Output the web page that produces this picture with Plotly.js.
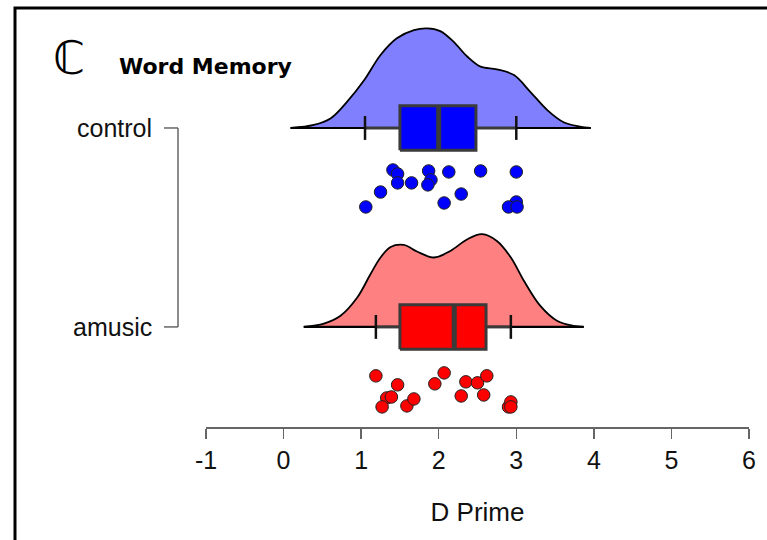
<!DOCTYPE html>
<html>
<head>
<meta charset="utf-8">
<script src="https://cdn.plot.ly/plotly-3.0.1.min.js"></script>
<style>html,body{margin:0;padding:0;background:#fff;}#chart{width:767px;height:540px;}</style>
</head>
<body>
<div id="chart"></div>
<script>
// ---- data ----
const groups = ['amusic', 'control'];
const groupPos = [1, 2];

// density outlines (x, height in y-axis units above the group baseline)
const controlDensX = [0.09, 0.39, 0.61, 0.82, 1.04, 1.25, 1.46, 1.68, 1.85, 2.02, 2.19, 2.37, 2.54, 2.75, 2.97, 3.18, 3.40, 3.61, 3.82, 3.96];
const controlDensH = [0, 0.015, 0.049, 0.132, 0.241, 0.367, 0.451, 0.492, 0.501, 0.487, 0.434, 0.358, 0.308, 0.295, 0.266, 0.182, 0.090, 0.029, 0.007, 0];
const amusicDensX = [0.26, 0.52, 0.73, 0.95, 1.12, 1.25, 1.38, 1.55, 1.72, 1.94, 2.15, 2.37, 2.56, 2.75, 2.93, 3.10, 3.31, 3.53, 3.74, 3.87];
const amusicDensH = [0, 0.017, 0.055, 0.148, 0.265, 0.349, 0.402, 0.412, 0.379, 0.349, 0.382, 0.441, 0.466, 0.432, 0.349, 0.231, 0.106, 0.030, 0.005, 0];

// box statistics [lowerfence, q1, median, q3, upperfence]
const controlBox = [1.05, 1.50, 2.00, 2.48, 3.00];
const amusicBox = [1.19, 1.50, 2.20, 2.61, 2.93];

// raw points and their vertical jitter (below baseline, y units)
const controlPts = [1.06, 1.25, 1.41, 1.47, 1.47, 1.65, 1.87, 1.90, 1.86, 2.13, 2.07, 2.29, 2.54, 3.00, 3.00, 2.90, 3.01];
const controlJit = [0.397, 0.322, 0.211, 0.231, 0.276, 0.276, 0.216, 0.261, 0.286, 0.221, 0.377, 0.332, 0.216, 0.221, 0.372, 0.397, 0.397];
const amusicPts = [1.19, 1.47, 1.33, 1.39, 1.27, 1.59, 1.68, 1.95, 2.07, 2.29, 2.35, 2.50, 2.62, 2.58, 2.90, 2.93, 2.93];
const amusicJit = [0.246, 0.291, 0.357, 0.352, 0.402, 0.397, 0.362, 0.286, 0.231, 0.347, 0.276, 0.281, 0.246, 0.342, 0.402, 0.377, 0.402];

const xTicks = [-1, 0, 1, 2, 3, 4, 5, 6];

// ---- build traces ----
const BOX_H = 0.112, CAP_H = 0.06;
function rain(densX, densH, box, pts, jit, base, fillDens, fillBox) {
  const [lf, q1, md, q3, uf] = box;
  const t = [];
  t.push({type: 'scatter', mode: 'lines', x: densX, y: densH.map(h => base + h),
    fill: 'toself', fillcolor: fillDens, line: {color: '#000', width: 1.8, shape: 'spline', smoothing: 1},
    hoverinfo: 'skip'});
  t.push({type: 'scatter', mode: 'lines', x: [densX[0], densX[densX.length - 1]], y: [base, base],
    line: {color: '#000', width: 2.2}, hoverinfo: 'skip'});
  // whiskers
  t.push({type: 'scatter', mode: 'lines', x: [lf, q1, null, q3, uf], y: [base, base, null, base, base],
    line: {color: '#3a3a3a', width: 3}, hoverinfo: 'skip'});
  // caps
  t.push({type: 'scatter', mode: 'lines', x: [lf, lf, null, uf, uf],
    y: [base - CAP_H, base + CAP_H, null, base - CAP_H, base + CAP_H],
    line: {color: '#111', width: 2.5}, hoverinfo: 'skip'});
  // box body
  t.push({type: 'scatter', mode: 'lines', x: [q1, q3, q3, q1, q1],
    y: [base - BOX_H, base - BOX_H, base + BOX_H, base + BOX_H, base - BOX_H],
    fill: 'toself', fillcolor: fillBox, line: {color: '#3a3a3a', width: 3}, hoverinfo: 'skip'});
  // median
  t.push({type: 'scatter', mode: 'lines', x: [md, md], y: [base - BOX_H, base + BOX_H],
    line: {color: '#3a3a3a', width: 5}, hoverinfo: 'skip'});
  // points
  t.push({type: 'scatter', mode: 'markers', x: pts, y: jit.map(j => base - j),
    marker: {color: fillBox, size: 12.5, line: {color: '#222', width: 1}}});
  return t;
}

const data = [].concat(
  rain(controlDensX, controlDensH, controlBox, controlPts, controlJit, groupPos[1], '#8080FF', '#0000FF'),
  rain(amusicDensX, amusicDensH, amusicBox, amusicPts, amusicJit, groupPos[0], '#FF8080', '#FF0000')
);
data.forEach(d => d.showlegend = false);

// paper helpers (plot area: left 206, right 749, top 10, bottom 427)
const px = v => (v - 206) / 543;
const py = v => (427 - v) / 417;

const shapes = [
  {type: 'rect', xref: 'paper', yref: 'paper', x0: px(15), x1: px(790), y0: py(560), y1: py(8),
    line: {color: '#000', width: 3}, fillcolor: 'rgba(0,0,0,0)', layer: 'below'},
  {type: 'line', xref: 'paper', yref: 'y', x0: px(178), x1: px(178), y0: groupPos[0], y1: groupPos[1],
    line: {color: '#666', width: 1.5}}
];
groupPos.forEach(g => shapes.push({type: 'line', xref: 'paper', yref: 'y', x0: px(164), x1: px(178), y0: g, y1: g,
  line: {color: '#666', width: 1.5}}));

const annotations = groups.map((g, i) => ({xref: 'paper', yref: 'y', x: px(154), y: groupPos[i],
  text: g, showarrow: false, xanchor: 'right', yanchor: 'middle',
  font: {family: 'Liberation Sans, Arial, sans-serif', size: 25, color: '#111'}}));
annotations.push({xref: 'paper', yref: 'paper', x: px(69), y: py(58), text: '\u2102', showarrow: false,
  xanchor: 'center', yanchor: 'middle', font: {family: 'DejaVu Sans, sans-serif', size: 46, color: '#000'}});
annotations.push({xref: 'paper', yref: 'paper', x: px(117), y: py(66), text: '<b>Word Memory</b>', showarrow: false,
  xanchor: 'left', yanchor: 'middle', font: {family: 'DejaVu Sans, sans-serif', size: 22, color: '#000'}});

const layout = {
  width: 767, height: 540,
  margin: {l: 206, r: 18, t: 10, b: 113},
  paper_bgcolor: '#fff', plot_bgcolor: '#fff',
  showlegend: false,
  xaxis: {range: [-1, 6], tickvals: xTicks, ticktext: xTicks.map(String), ticks: 'outside', ticklen: 10,
    tickwidth: 1.5, tickcolor: '#666', showline: true, linecolor: '#666', linewidth: 1.5,
    showgrid: false, zeroline: false, fixedrange: true,
    tickfont: {family: 'Liberation Sans, Arial, sans-serif', size: 25, color: '#111'},
    title: {text: 'D Prime', standoff: 30, font: {family: 'Liberation Sans, Arial, sans-serif', size: 26, color: '#111'}}},
  yaxis: {range: [0.497, 2.593], showticklabels: false, ticks: '', showgrid: false, zeroline: false,
    showline: false, fixedrange: true},
  shapes: shapes,
  annotations: annotations
};

Plotly.newPlot('chart', data, layout, {displayModeBar: false, staticPlot: true});
</script>
</body>
</html>
